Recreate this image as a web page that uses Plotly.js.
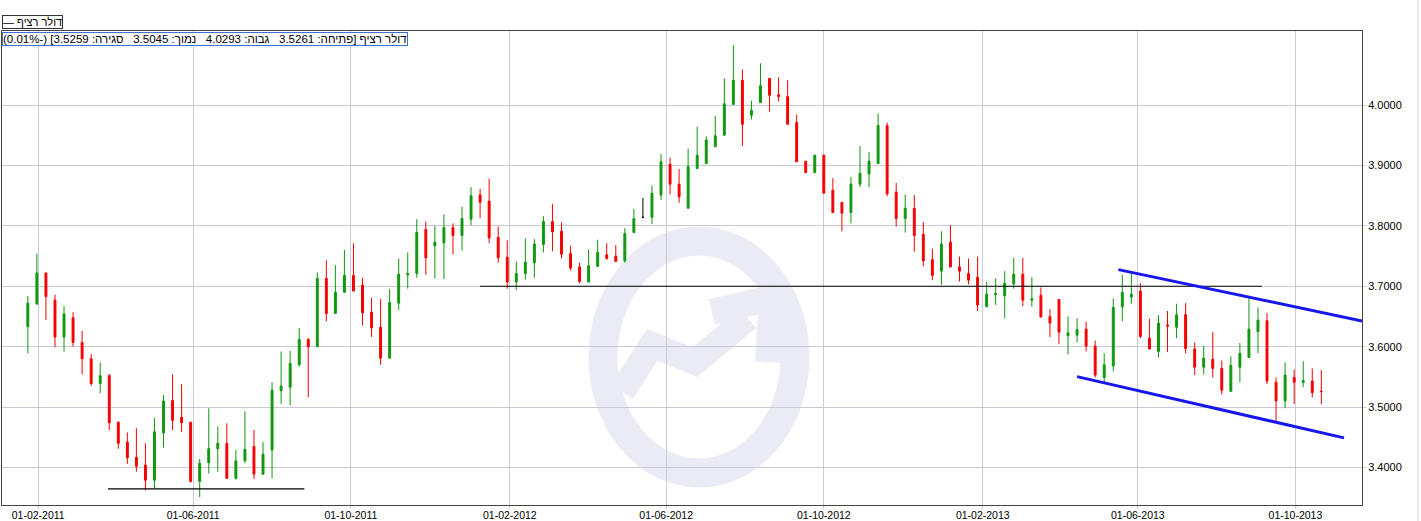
<!DOCTYPE html>
<html><head><meta charset="utf-8">
<script src="https://cdn.plot.ly/plotly-3.0.1.min.js"></script>
<style>html,body{margin:0;padding:0;background:#fff;}#chart{width:1421px;height:521px;}</style>
</head><body><div id="chart"></div>
<script>
// ---- data ----
const dates = [
'2011-01-24','2011-01-31','2011-02-07','2011-02-14','2011-02-21','2011-02-28','2011-03-07','2011-03-14','2011-03-21','2011-03-28',
'2011-04-04','2011-04-11','2011-04-18','2011-04-25','2011-05-02','2011-05-09','2011-05-16','2011-05-23','2011-05-30','2011-06-06',
'2011-06-13','2011-06-20','2011-06-27','2011-07-04','2011-07-11','2011-07-18','2011-07-25','2011-08-01','2011-08-08','2011-08-15',
'2011-08-22','2011-08-29','2011-09-05','2011-09-12','2011-09-19','2011-09-26','2011-10-03','2011-10-10','2011-10-17','2011-10-24',
'2011-10-31','2011-11-07','2011-11-14','2011-11-21','2011-11-28','2011-12-05','2011-12-12','2011-12-19','2011-12-26','2012-01-02',
'2012-01-09','2012-01-16','2012-01-23','2012-01-30','2012-02-06','2012-02-13','2012-02-20','2012-02-27','2012-03-05','2012-03-12',
'2012-03-19','2012-03-26','2012-04-02','2012-04-09','2012-04-16','2012-04-23','2012-04-30','2012-05-07','2012-05-14','2012-05-21',
'2012-05-28','2012-06-04','2012-06-11','2012-06-18','2012-06-25','2012-07-02','2012-07-09','2012-07-16','2012-07-23','2012-07-30',
'2012-08-06','2012-08-13','2012-08-20','2012-08-27','2012-09-03','2012-09-10','2012-09-17','2012-09-24','2012-10-01','2012-10-08',
'2012-10-15','2012-10-22','2012-10-29','2012-11-05','2012-11-12','2012-11-19','2012-11-26','2012-12-03','2012-12-10','2012-12-17',
'2012-12-24','2012-12-31','2013-01-07','2013-01-14','2013-01-21','2013-01-28','2013-02-04','2013-02-11','2013-02-18','2013-02-25',
'2013-03-04','2013-03-11','2013-03-18','2013-03-25','2013-04-01','2013-04-08','2013-04-15','2013-04-22','2013-04-29','2013-05-06',
'2013-05-13','2013-05-20','2013-05-27','2013-06-03','2013-06-10','2013-06-17','2013-06-24','2013-07-01','2013-07-08','2013-07-15',
'2013-07-22','2013-07-29','2013-08-05','2013-08-12','2013-08-19','2013-08-26','2013-09-02','2013-09-09','2013-09-16','2013-09-23',
'2013-09-30','2013-10-07','2013-10-14','2013-10-21'];

const openVals = [
3.633,3.671,3.722,3.677,3.616,3.648,3.607,3.580,3.539,3.552,
3.475,3.442,3.417,3.404,3.379,3.457,3.511,3.483,3.475,3.377,
3.408,3.431,3.440,3.382,3.411,3.435,3.389,3.429,3.527,3.533,
3.570,3.612,3.600,3.713,3.655,3.690,3.718,3.702,3.657,3.632,
3.581,3.672,3.719,3.721,3.794,3.767,3.772,3.797,3.784,3.811,
3.851,3.841,3.781,3.748,3.707,3.721,3.739,3.769,3.807,3.791,
3.754,3.732,3.707,3.733,3.752,3.750,3.742,3.789,3.814,3.814,
3.851,3.902,3.869,3.829,3.895,3.903,3.931,3.950,4.001,4.041,
3.983,4.004,4.044,4.017,4.014,3.971,3.907,3.888,3.917,3.859,
3.839,3.822,3.869,3.886,3.903,3.966,3.856,3.812,3.829,3.786,
3.744,3.725,3.773,3.732,3.721,3.715,3.666,3.686,3.684,3.704,
3.720,3.677,3.685,3.650,3.678,3.618,3.619,3.629,3.601,3.549,
3.568,3.666,3.682,3.692,3.614,3.592,3.636,3.632,3.653,3.596,
3.566,3.579,3.564,3.526,3.566,3.582,3.625,3.643,3.541,3.510,
3.549,3.541,3.543,3.5261];

const highVals = [
3.684,3.754,3.722,3.686,3.667,3.657,3.626,3.588,3.574,3.555,
3.476,3.458,3.465,3.440,3.482,3.520,3.554,3.538,3.475,3.414,
3.498,3.468,3.473,3.429,3.493,3.462,3.442,3.541,3.592,3.593,
3.631,3.614,3.723,3.743,3.735,3.760,3.771,3.714,3.681,3.679,
3.695,3.746,3.756,3.811,3.807,3.800,3.819,3.804,3.832,3.864,
3.861,3.878,3.799,3.776,3.741,3.779,3.778,3.816,3.836,3.806,
3.767,3.739,3.761,3.777,3.771,3.768,3.796,3.828,3.846,3.867,
3.919,3.913,3.894,3.928,3.964,3.948,3.982,4.044,4.099,4.059,
4.007,4.069,4.044,4.046,4.041,3.984,3.907,3.917,3.917,3.879,
3.839,3.881,3.932,3.922,3.986,3.971,3.871,3.852,3.851,3.806,
3.762,3.791,3.801,3.749,3.746,3.749,3.707,3.713,3.725,3.747,
3.747,3.715,3.698,3.662,3.678,3.650,3.647,3.641,3.610,3.589,
3.680,3.719,3.723,3.705,3.646,3.652,3.659,3.671,3.672,3.607,
3.601,3.624,3.577,3.584,3.606,3.681,3.665,3.656,3.549,3.574,
3.562,3.576,3.564,3.561];

const lowVals = [
3.589,3.669,3.644,3.599,3.592,3.600,3.554,3.535,3.523,3.462,
3.431,3.406,3.393,3.362,3.366,3.433,3.462,3.459,3.375,3.351,
3.390,3.393,3.381,3.380,3.407,3.381,3.388,3.382,3.505,3.503,
3.567,3.516,3.600,3.642,3.655,3.689,3.692,3.635,3.616,3.570,
3.581,3.661,3.696,3.714,3.719,3.713,3.712,3.753,3.759,3.801,
3.813,3.771,3.739,3.696,3.694,3.711,3.714,3.756,3.758,3.746,
3.726,3.705,3.707,3.732,3.744,3.741,3.739,3.788,3.813,3.803,
3.843,3.852,3.838,3.829,3.894,3.902,3.931,3.949,4.001,3.932,
3.976,4.004,3.989,4.006,3.968,3.906,3.888,3.888,3.854,3.821,
3.791,3.804,3.864,3.864,3.903,3.849,3.799,3.789,3.757,3.733,
3.710,3.702,3.731,3.708,3.703,3.659,3.666,3.669,3.647,3.696,
3.667,3.666,3.649,3.616,3.604,3.587,3.607,3.592,3.549,3.541,
3.559,3.642,3.671,3.614,3.596,3.582,3.591,3.614,3.589,3.553,
3.554,3.549,3.521,3.526,3.541,3.582,3.589,3.538,3.475,3.498,
3.505,3.533,3.516,3.5045];

const closeVals = [
3.672,3.722,3.683,3.616,3.654,3.607,3.580,3.539,3.552,3.474,
3.440,3.416,3.402,3.379,3.459,3.510,3.478,3.474,3.377,3.407,
3.431,3.440,3.382,3.411,3.430,3.389,3.422,3.528,3.535,3.572,
3.612,3.600,3.713,3.655,3.690,3.718,3.692,3.656,3.631,3.581,
3.673,3.720,3.721,3.789,3.747,3.773,3.797,3.784,3.812,3.850,
3.839,3.780,3.747,3.707,3.721,3.740,3.770,3.807,3.790,3.753,
3.730,3.708,3.734,3.756,3.746,3.741,3.787,3.812,3.814,3.854,
3.906,3.869,3.848,3.898,3.917,3.942,3.949,4.002,4.041,3.968,
3.991,4.032,4.016,4.014,3.968,3.906,3.888,3.917,3.854,3.822,
3.821,3.869,3.887,3.907,3.966,3.853,3.812,3.829,3.784,3.742,
3.718,3.770,3.732,3.725,3.710,3.669,3.687,3.688,3.705,3.720,
3.677,3.679,3.649,3.639,3.624,3.623,3.628,3.601,3.553,3.570,
3.665,3.690,3.687,3.617,3.596,3.639,3.634,3.653,3.597,3.566,
3.581,3.564,3.528,3.569,3.589,3.629,3.644,3.543,3.510,3.553,
3.541,3.544,3.524,3.5259];

const xTickVals = ['2011-02-01','2011-06-01','2011-10-01','2012-02-01','2012-06-01','2012-10-01','2013-02-01','2013-06-01','2013-10-01'];
const xTickText = ['01-02-2011','01-06-2011','01-10-2011','01-02-2012','01-06-2012','01-10-2012','01-02-2013','01-06-2013','01-10-2013'];
const yTickVals = [3.4, 3.5, 3.6, 3.7, 3.8, 3.9, 4.0];

// horizontal support / resistance levels drawn on the chart
const levelStart = ['2011-03-27', '2012-01-09'];
const levelEnd   = ['2011-08-26', '2013-09-05'];
const levelValue = [3.3645, 3.700];

// descending channel lines
const channelStart      = ['2013-05-17', '2013-04-15'];
const channelEnd        = ['2013-11-21 12:00', '2013-11-07 14:00'];
const channelStartValue = [3.7275, 3.5504];
const channelEndValue   = [3.6426, 3.4490];

const seriesName = 'דולר רציף';
const infoLabels = ['פתיחה', 'גבוה', 'נמוך', 'סגירה'];
const infoValues = ['3.5261', '4.0293', '3.5045', '3.5259'];
const infoChange = '(-0.01%)';

// ---- styling ----
const GREEN = '#0e980e', RED = '#f40000', GRID = '#c9c9d8', WM = '#ebebf6';
const FONT = '"Liberation Sans", Arial, sans-serif';

// split regular candles from unchanged (open == close) candles, drawn black
const mainO = [], mainH = [], mainL = [], mainC = [];
const flatO = [], flatH = [], flatL = [], flatC = [];
for (let i = 0; i < dates.length; i++) {
  const flat = openVals[i] === closeVals[i];
  mainO.push(flat ? null : openVals[i]); mainH.push(flat ? null : highVals[i]);
  mainL.push(flat ? null : lowVals[i]);  mainC.push(flat ? null : closeVals[i]);
  flatO.push(flat ? openVals[i] : null); flatH.push(flat ? highVals[i] : null);
  flatL.push(flat ? lowVals[i] : null);  flatC.push(flat ? closeVals[i] : null);
}

const traces = [
  {type: 'candlestick', x: dates, open: mainO, high: mainH, low: mainL, close: mainC,
   increasing: {line: {color: GREEN, width: 1}, fillcolor: GREEN},
   decreasing: {line: {color: RED, width: 1}, fillcolor: RED},
   whiskerwidth: 0, showlegend: false, hoverinfo: 'skip', name: seriesName},
  {type: 'candlestick', x: dates, open: flatO, high: flatH, low: flatL, close: flatC,
   increasing: {line: {color: '#000', width: 1}, fillcolor: '#000'},
   decreasing: {line: {color: '#000', width: 1}, fillcolor: '#000'},
   whiskerwidth: 0, showlegend: false, hoverinfo: 'skip'}
];

const shapes = [];
levelValue.forEach((v, i) => shapes.push({type: 'line', xref: 'x', yref: 'y',
  x0: levelStart[i], x1: levelEnd[i], y0: v, y1: v, line: {color: '#000', width: 1.2}, layer: 'above'}));
channelStart.forEach((d, i) => shapes.push({type: 'line', xref: 'x', yref: 'y',
  x0: d, x1: channelEnd[i], y0: channelStartValue[i], y1: channelEndValue[i],
  line: {color: '#1616ee', width: 3}, layer: 'above'}));
// watermark logo
shapes.push({type: 'circle', xref: 'paper', yref: 'paper', xsizemode: 'pixel', ysizemode: 'pixel',
  xanchor: 0.5125, yanchor: 0.3122, x0: -96, x1: 96, y0: -116, y1: 116,
  line: {color: WM, width: 29}, fillcolor: 'rgba(0,0,0,0)', layer: 'between'});
shapes.push({type: 'path', xref: 'paper', yref: 'paper', xsizemode: 'pixel', ysizemode: 'pixel',
  xanchor: 0.5125, yanchor: 0.3122,
  path: 'M-77,-35 L-47,12 L-4,-5 L49,39 M13,45 L73,59 L69,-5',
  line: {color: WM, width: 26}, layer: 'between'});
// right edge separator line
shapes.push({type: 'line', xref: 'paper', yref: 'paper', x0: 1.0412, x1: 1.0412, y0: -0.04, y1: 1.07,
  line: {color: '#d4d4d4', width: 1}, layer: 'above'});

const NB = '\u00a0';
const infoText = '\u202B' + seriesName + ' [' +
  infoLabels.map((l, i) => l + ': ' + infoValues[i]).join(NB + NB + ' ') + '] ' + infoChange + '\u202C';

const layout = {
  width: 1421, height: 521,
  margin: {l: 2, r: 59, t: 31, b: 16, pad: 0},
  paper_bgcolor: '#fff', plot_bgcolor: '#fff',
  font: {family: FONT, size: 11, color: '#000'},
  showlegend: false,
  boxgap: 0.7, boxgroupgap: 0.3,
  xaxis: {
    type: 'date', range: ['2011-01-04', '2013-11-21 12:00'],
    tickvals: xTickVals, ticktext: xTickText,
    showgrid: true, gridcolor: GRID, gridwidth: 1,
    ticks: 'outside', ticklen: 3, tickcolor: GRID, ticklabelstandoff: -3,
    showline: true, linecolor: '#444', linewidth: 1, mirror: true,
    tickfont: {family: FONT, size: 10.5, color: '#000'},
    rangeslider: {visible: false}, zeroline: false, fixedrange: true
  },
  yaxis: {
    side: 'right', range: [3.3379, 4.1225],
    tickvals: yTickVals, tickformat: '.4f',
    showgrid: true, gridcolor: GRID, gridwidth: 1,
    ticks: 'outside', ticklen: 3, tickcolor: GRID,
    showline: true, linecolor: '#444', linewidth: 1, mirror: true,
    tickfont: {family: FONT, size: 11, color: '#000'},
    zeroline: false, fixedrange: true
  },
  shapes: shapes,
  annotations: [
    {xref: 'paper', yref: 'paper', x: 0, y: 1.033, xanchor: 'left', yanchor: 'top',
     text: '\u2014 ' + seriesName, showarrow: false, font: {family: FONT, size: 11, color: '#000'},
     bgcolor: '#fff', bordercolor: '#333', borderwidth: 1, borderpad: 0},
    {xref: 'paper', yref: 'paper', x: 0, y: 0.998, xanchor: 'left', yanchor: 'top',
     text: infoText, showarrow: false, font: {family: FONT, size: 11.5, color: '#000'},
     bgcolor: '#fff', bordercolor: '#3f6fd0', borderwidth: 1, borderpad: 0}
  ]
};

Plotly.newPlot('chart', traces, layout, {displayModeBar: false, staticPlot: true});
</script>
</body></html>
